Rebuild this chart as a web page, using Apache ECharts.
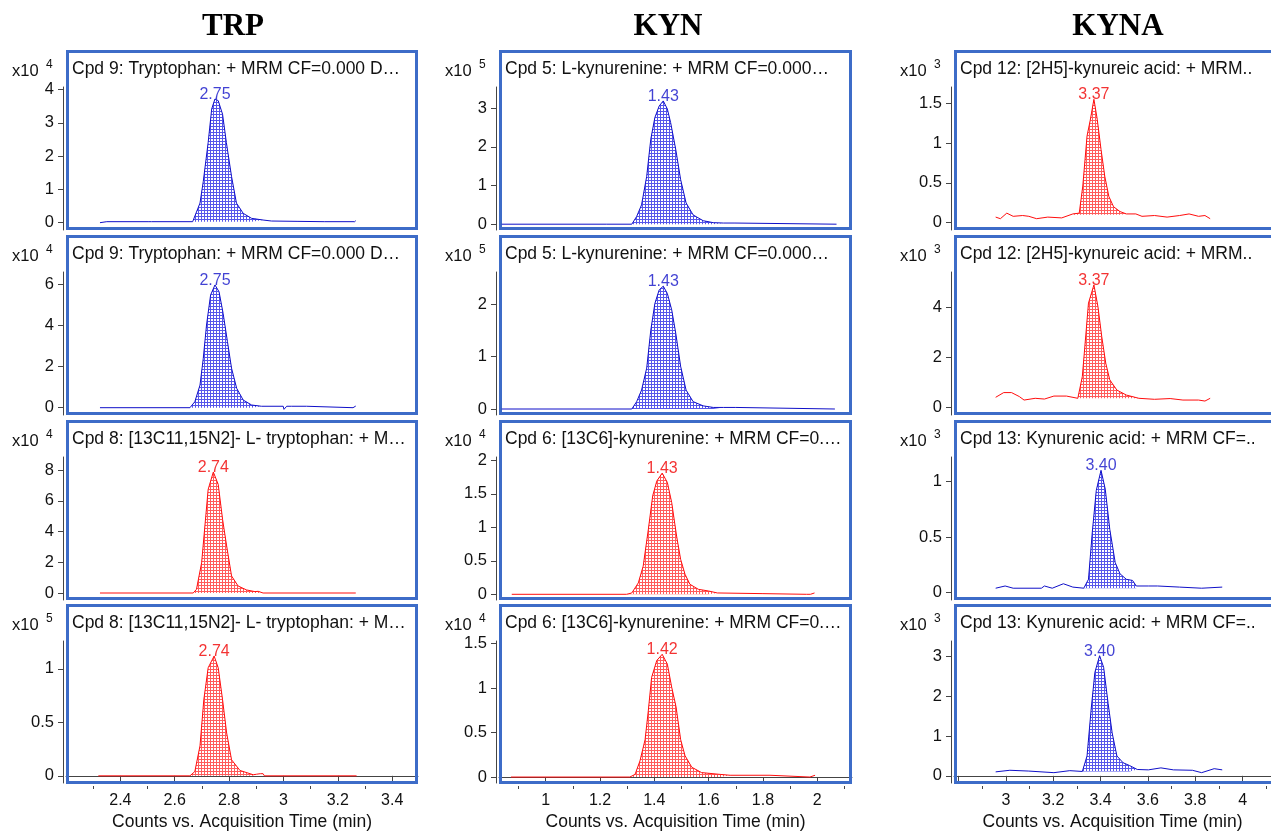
<!DOCTYPE html>
<html>
<head>
<meta charset="utf-8">
<title>TRP / KYN / KYNA MRM chromatograms</title>
<script src="https://cdn.jsdelivr.net/npm/echarts@6.0.0/dist/echarts.min.js"></script>
<style>
  html, body { margin: 0; padding: 0; background: #fff; }
  #chart { width: 1271px; height: 832px; }
</style>
</head>
<body>
<div id="chart"></div>
<script>
// column headers and panel captions (row by row)
const columnTitles = ['TRP', 'KYN', 'KYNA'];
const panelTitles = [
  'Cpd 9: Tryptophan: + MRM CF=0.000 D…',
  'Cpd 5: L-kynurenine: + MRM CF=0.000…',
  'Cpd 12: [2H5]-kynureic acid: + MRM..',
  'Cpd 9: Tryptophan: + MRM CF=0.000 D…',
  'Cpd 5: L-kynurenine: + MRM CF=0.000…',
  'Cpd 12: [2H5]-kynureic acid: + MRM..',
  'Cpd 8: [13C11,15N2]- L- tryptophan: + M…',
  'Cpd 6: [13C6]-kynurenine: + MRM CF=0.…',
  'Cpd 13: Kynurenic acid: + MRM CF=..',
  'Cpd 8: [13C11,15N2]- L- tryptophan: + M…',
  'Cpd 6: [13C6]-kynurenine: + MRM CF=0.…',
  'Cpd 13: Kynurenic acid: + MRM CF=..'
];
const exponents = [4, 5, 3, 4, 5, 3, 4, 4, 3, 5, 4, 3];
const peakRT = ['2.75', '1.43', '3.37', '2.75', '1.43', '3.37', '2.74', '1.43', '3.40', '2.74', '1.42', '3.40'];
const traceColor = ['blue', 'blue', 'red', 'blue', 'blue', 'red', 'red', 'red', 'blue', 'red', 'red', 'blue'];

// axis ranges and ticks
const xRanges = [[2.2, 3.495], [0.828, 2.128], [2.781, 4.12]];
const xLabels = [[2.4, 2.6, 2.8, 3, 3.2, 3.4], [1, 1.2, 1.4, 1.6, 1.8, 2], [3, 3.2, 3.4, 3.6, 3.8, 4]];
const xMajorTicks = [[2.4, 2.6, 2.8, 3, 3.2, 3.4], [1, 1.2, 1.4, 1.6, 1.8, 2], [2.8, 3, 3.2, 3.4, 3.6, 3.8, 4]];
const xMinorTicks = [[2.3, 2.5, 2.7, 2.9, 3.1, 3.3], [0.9, 1.1, 1.3, 1.5, 1.7, 1.9, 2.1], [2.9, 3.1, 3.3, 3.5, 3.7, 3.9, 4.1]];
const yRanges = [
  [-0.22, 4.08], [-0.15, 3.55], [-0.092, 1.705],
  [-0.355, 6.6], [-0.114, 2.61], [-0.31, 5.43],
  [-0.455, 8.85], [-0.085, 2.05], [-0.066, 1.22],
  [-0.067, 1.26], [-0.067, 1.53], [-0.18, 3.39]
];
const yTicks = [
  [0, 1, 2, 3, 4], [0, 1, 2, 3], [0, 0.5, 1, 1.5],
  [0, 2, 4, 6], [0, 1, 2], [0, 2, 4],
  [0, 2, 4, 6, 8], [0, 0.5, 1, 1.5, 2], [0, 0.5, 1],
  [0, 0.5, 1], [0, 0.5, 1, 1.5], [0, 1, 2, 3]
];

// traces: acquisition time (min) and counts (in units of 10^exponent)
const trp1Time = [2.325, 2.35, 2.505, 2.51, 2.515, 2.666, 2.693, 2.705, 2.723, 2.736, 2.748, 2.760, 2.776, 2.790, 2.809, 2.827, 2.852, 2.883, 2.925, 2.956, 3.05, 3.15, 3.262, 3.266];
const trp1Counts = [0.0, 0.03, 0.03, 0.0, 0.03, 0.03, 0.59, 1.24, 2.41, 3.42, 3.72, 3.67, 3.26, 2.41, 1.39, 0.59, 0.28, 0.13, 0.08, 0.05, 0.04, 0.03, 0.03, 0.06];
const trp2Time = [2.325, 2.656, 2.674, 2.693, 2.705, 2.717, 2.732, 2.748, 2.763, 2.778, 2.794, 2.809, 2.828, 2.852, 2.883, 2.919, 2.999, 3.002, 3.012, 3.030, 3.085, 3.091, 3.256, 3.266];
const trp2Counts = [0, 0, 0.29, 1.1, 2.4, 4.02, 5.48, 5.97, 5.64, 4.59, 3.21, 1.92, 0.94, 0.37, 0.13, 0.07, 0.07, -0.08, 0.07, 0.07, 0.07, 0, 0, 0.08];
const trp3Time = [2.325, 2.668, 2.680, 2.699, 2.711, 2.723, 2.742, 2.760, 2.776, 2.791, 2.809, 2.833, 2.864, 2.895, 2.907, 2.925, 3.266];
const trp3Counts = [0, 0, 0.24, 1.97, 4.36, 6.74, 7.87, 7.07, 4.79, 3.06, 1.11, 0.46, 0.2, 0.09, 0.11, 0, 0];
const trp4Time = [2.319, 2.656, 2.674, 2.693, 2.707, 2.723, 2.745, 2.760, 2.776, 2.791, 2.809, 2.840, 2.889, 2.901, 2.915, 2.925, 2.93, 3.269];
const trp4Counts = [0, 0, 0.04, 0.28, 0.71, 1.01, 1.12, 1.01, 0.71, 0.40, 0.15, 0.05, 0.01, 0.015, 0.02, 0.02, 0, 0];

const kyn1Time = [0.838, 1.225, 1.317, 1.335, 1.353, 1.372, 1.387, 1.402, 1.418, 1.433, 1.448, 1.460, 1.479, 1.497, 1.517, 1.543, 1.580, 1.617, 1.654, 1.697, 1.703, 2.071];
const kyn1Counts = [0, 0, 0, 0.2, 0.5, 1.24, 2.2, 2.76, 3.06, 3.19, 2.98, 2.63, 1.93, 1.15, 0.55, 0.24, 0.09, 0.04, 0.03, 0.03, 0, 0];
const kyn2Time = [0.838, 1.317, 1.335, 1.353, 1.372, 1.387, 1.402, 1.418, 1.433, 1.448, 1.464, 1.479, 1.497, 1.517, 1.543, 1.580, 1.617, 1.654, 1.700, 1.705, 2.065];
const kyn2Counts = [0, 0, 0.14, 0.36, 0.78, 1.5, 2.01, 2.27, 2.34, 2.2, 1.89, 1.44, 0.81, 0.36, 0.14, 0.06, 0.03, 0.03, 0.03, 0, 0];
const kyn3Time = [0.875, 1.298, 1.317, 1.341, 1.359, 1.378, 1.394, 1.409, 1.429, 1.448, 1.464, 1.482, 1.497, 1.513, 1.531, 1.562, 1.599, 1.632, 1.80, 1.96, 1.967, 1.975, 1.99];
const kyn3Counts = [0, 0, 0.02, 0.17, 0.42, 0.97, 1.47, 1.69, 1.81, 1.67, 1.37, 0.87, 0.52, 0.30, 0.15, 0.075, 0.05, 0.02, 0.01, 0.0, -0.02, 0, 0.02];
const kyn4Time = [0.872, 1.310, 1.329, 1.347, 1.366, 1.378, 1.390, 1.409, 1.429, 1.448, 1.464, 1.480, 1.497, 1.513, 1.538, 1.574, 1.642, 1.679, 1.826, 1.832, 1.973, 1.992];
const kyn4Counts = [0, 0, 0.03, 0.18, 0.42, 0.75, 1.12, 1.31, 1.38, 1.27, 1.01, 0.79, 0.42, 0.24, 0.11, 0.05, 0.03, 0.02, 0.02, 0, 0, 0.02];

const kyna1Time = [2.957, 2.977, 3.004, 3.031, 3.071, 3.097, 3.130, 3.177, 3.236, 3.283, 3.310, 3.325, 3.343, 3.356, 3.372, 3.386, 3.402, 3.418, 3.435, 3.455, 3.482, 3.509, 3.549, 3.575, 3.628, 3.681, 3.734, 3.774, 3.814, 3.841, 3.863];
const kyna1Counts = [0.07, 0.05, 0.12, 0.08, 0.09, 0.08, 0.05, 0.07, 0.06, 0.11, 0.12, 0.46, 1.09, 1.28, 1.55, 1.30, 0.92, 0.58, 0.33, 0.20, 0.14, 0.11, 0.11, 0.08, 0.09, 0.07, 0.09, 0.11, 0.08, 0.09, 0.05];
const kyna2Time = [2.957, 2.991, 3.024, 3.057, 3.077, 3.124, 3.163, 3.203, 3.256, 3.304, 3.323, 3.336, 3.349, 3.372, 3.389, 3.405, 3.422, 3.439, 3.469, 3.509, 3.562, 3.628, 3.694, 3.748, 3.814, 3.841, 3.863];
const kyna2Counts = [0.40, 0.59, 0.59, 0.43, 0.29, 0.36, 0.33, 0.45, 0.45, 0.36, 1.23, 2.7, 4.18, 4.91, 4.04, 2.84, 1.77, 1.1, 0.69, 0.49, 0.36, 0.32, 0.35, 0.29, 0.29, 0.25, 0.36];
const kyna3Time = [2.957, 2.997, 3.031, 3.150, 3.163, 3.196, 3.243, 3.283, 3.329, 3.349, 3.365, 3.382, 3.402, 3.420, 3.439, 3.462, 3.482, 3.509, 3.535, 3.551, 3.602, 3.641, 3.734, 3.827, 3.832, 3.914];
const kyna3Counts = [0.04, 0.06, 0.04, 0.04, 0.06, 0.04, 0.08, 0.05, 0.04, 0.12, 0.54, 0.92, 1.10, 0.93, 0.57, 0.27, 0.17, 0.12, 0.11, 0.06, 0.06, 0.06, 0.05, 0.04, 0.03, 0.05];
const kyna4Time = [2.957, 3.017, 3.097, 3.203, 3.270, 3.323, 3.343, 3.360, 3.376, 3.396, 3.413, 3.432, 3.449, 3.469, 3.495, 3.522, 3.555, 3.602, 3.655, 3.708, 3.788, 3.827, 3.880, 3.914];
const kyna4Counts = [0.10, 0.14, 0.12, 0.08, 0.13, 0.11, 0.5, 1.65, 2.6, 3.02, 2.73, 1.82, 1.08, 0.5, 0.33, 0.26, 0.16, 0.15, 0.2, 0.15, 0.14, 0.08, 0.18, 0.15];

// integrated peak region: start time, end time, baseline level
const fillStart = [2.666, 1.317, 3.283, 2.656, 1.317, 3.304, 2.668, 1.298, 3.329, 2.656, 1.310, 3.323];
const fillEnd = [2.925, 1.654, 3.509, 2.919, 1.654, 3.562, 2.925, 1.632, 3.551, 2.901, 1.679, 3.555];
const fillBase = [0.03, 0, 0.1, 0, 0, 0.36, 0, 0, 0.04, 0, 0, 0.11];

const traces = [
  [trp1Time, trp1Counts], [kyn1Time, kyn1Counts], [kyna1Time, kyna1Counts],
  [trp2Time, trp2Counts], [kyn2Time, kyn2Counts], [kyna2Time, kyna2Counts],
  [trp3Time, trp3Counts], [kyn3Time, kyn3Counts], [kyna3Time, kyna3Counts],
  [trp4Time, trp4Counts], [kyn4Time, kyn4Counts], [kyna4Time, kyna4Counts]
];

// layout (pixels)
const colBox = [{ left: 66, right: 418 }, { left: 499, right: 852 }, { left: 954, right: 1290 }];
const rowTops = [50, 235, 420, 604];
const boxH = 180;
const plotTop = 37;
const headerX = [233, 668, 1118];
const expX = [12, 445, 900];

const COLORS = {
  blue: { line: '#0f0fc8', mesh: '#5656ea', text: '#1212c8' },
  red: { line: '#ff0d0d', mesh: '#ff5c5c', text: '#f00000' }
};
const FONT = 'Arial, "Liberation Sans", sans-serif';

function meshPattern(color) {
  const c = document.createElement('canvas');
  c.width = 3;
  c.height = 3;
  const ctx = c.getContext('2d');
  ctx.fillStyle = '#ffffff';
  ctx.fillRect(0, 0, 3, 3);
  ctx.fillStyle = color;
  ctx.fillRect(0, 0, 3, 1);
  ctx.fillRect(0, 0, 1, 3);
  return c;
}
const patterns = { blue: meshPattern(COLORS.blue.mesh), red: meshPattern(COLORS.red.mesh) };

const grids = [], xAxes = [], yAxes = [], series = [], graphics = [];

columnTitles.forEach((t, c) => {
  graphics.push({
    type: 'text',
    style: {
      text: t, x: headerX[c], y: 27,
      font: 'bold 31px "Times New Roman", "Liberation Serif", serif',
      fill: '#000', align: 'center', verticalAlign: 'middle',
      textAlign: 'center', textVerticalAlign: 'middle'
    }
  });
});

traces.forEach((tr, i) => {
  const row = Math.floor(i / 3), col = i % 3;
  const box = colBox[col];
  const top = rowTops[row];
  const bottomRow = row === rowTops.length - 1;
  const pal = COLORS[traceColor[i]];

  grids.push({
    left: box.left, top: top + plotTop,
    width: box.right - box.left, height: boxH - plotTop
  });

  const xIndex = xAxes.length;
  xAxes.push({
    type: 'value', gridIndex: i,
    min: xRanges[col][0], max: xRanges[col][1],
    offset: 3,
    show: bottomRow,
    axisLine: { show: true, lineStyle: { color: '#444', width: 1 } },
    axisTick: { show: true, length: 6, customValues: xMajorTicks[col], lineStyle: { color: '#444' } },
    axisLabel: { customValues: xLabels[col], margin: 7, fontSize: 16, fontFamily: FONT, color: '#111' },
    splitLine: { show: false },
    name: bottomRow ? 'Counts vs. Acquisition Time (min)' : '',
    nameLocation: 'middle', nameGap: 27,
    nameTextStyle: { fontSize: 17.5, fontFamily: FONT, color: '#111' }
  });
  if (bottomRow) {
    // minor ticks
    xAxes.push({
      type: 'value', gridIndex: i,
      min: xRanges[col][0], max: xRanges[col][1],
      offset: 3, position: 'bottom',
      axisLine: { show: false },
      axisTick: { show: true, length: 3, customValues: xMinorTicks[col], lineStyle: { color: '#444' } },
      axisLabel: { show: false },
      splitLine: { show: false }
    });
  }

  yAxes.push({
    type: 'value', gridIndex: i,
    min: yRanges[i][0], max: yRanges[i][1],
    offset: 3,
    axisLine: { show: true, lineStyle: { color: '#444', width: 1 } },
    axisTick: { show: true, length: 5, customValues: yTicks[i], lineStyle: { color: '#444' } },
    axisLabel: { customValues: yTicks[i], margin: 9, fontSize: 16.5, fontFamily: FONT, color: '#111' },
    splitLine: { show: false }
  });

  const [time, counts] = tr;
  const pts = time.map((t, k) => [t, counts[k]]);
  const peakPts = pts.filter(p => p[0] >= fillStart[i] && p[0] <= fillEnd[i]);
  let apex = pts[0];
  pts.forEach(p => { if (p[1] > apex[1]) apex = p; });

  series.push({
    type: 'line', xAxisIndex: xIndex, yAxisIndex: i,
    data: peakPts, symbol: 'none', silent: true, z: 2,
    lineStyle: { width: 0 },
    areaStyle: { color: { image: patterns[traceColor[i]], repeat: 'repeat' }, opacity: 1, origin: fillBase[i] }
  });
  series.push({
    type: 'line', xAxisIndex: xIndex, yAxisIndex: i,
    data: pts, symbol: 'none', silent: true, z: 3,
    lineStyle: { color: pal.line, width: 1 }
  });
  series.push({
    type: 'scatter', xAxisIndex: xIndex, yAxisIndex: i,
    data: [apex], symbolSize: 1, silent: true, z: 4,
    itemStyle: { color: 'rgba(0,0,0,0)' },
    label: {
      show: true, position: 'top', distance: -4,
      formatter: peakRT[i], color: pal.text, fontSize: 16, fontFamily: FONT
    }
  });

  // panel frame, caption and exponent
  graphics.push({
    type: 'rect', z: 1,
    shape: { x: box.left + 1.5, y: top + 1.5, width: box.right - box.left - 3, height: boxH - 3 },
    style: { fill: 'none', stroke: '#3d6cc8', lineWidth: 3 }
  });
  graphics.push({
    type: 'text', z: 5,
    style: {
      text: panelTitles[i], x: box.left + 6, y: top + 19,
      font: '17.5px ' + FONT, fill: '#111',
      align: 'left', verticalAlign: 'middle', textAlign: 'left', textVerticalAlign: 'middle'
    }
  });
  graphics.push({
    type: 'text', z: 5,
    style: {
      text: 'x10', x: expX[col], y: top + 21,
      font: '16.5px ' + FONT, fill: '#111',
      align: 'left', verticalAlign: 'middle', textAlign: 'left', textVerticalAlign: 'middle'
    }
  });
  graphics.push({
    type: 'text', z: 5,
    style: {
      text: String(exponents[i]), x: expX[col] + 34, y: top + 15,
      font: '12px ' + FONT, fill: '#111',
      align: 'left', verticalAlign: 'middle', textAlign: 'left', textVerticalAlign: 'middle'
    }
  });
});

const chart = echarts.init(document.getElementById('chart'));
chart.setOption({
  animation: false,
  backgroundColor: '#fff',
  grid: grids,
  xAxis: xAxes,
  yAxis: yAxes,
  series: series,
  graphic: { elements: graphics }
});
</script>
</body>
</html>
